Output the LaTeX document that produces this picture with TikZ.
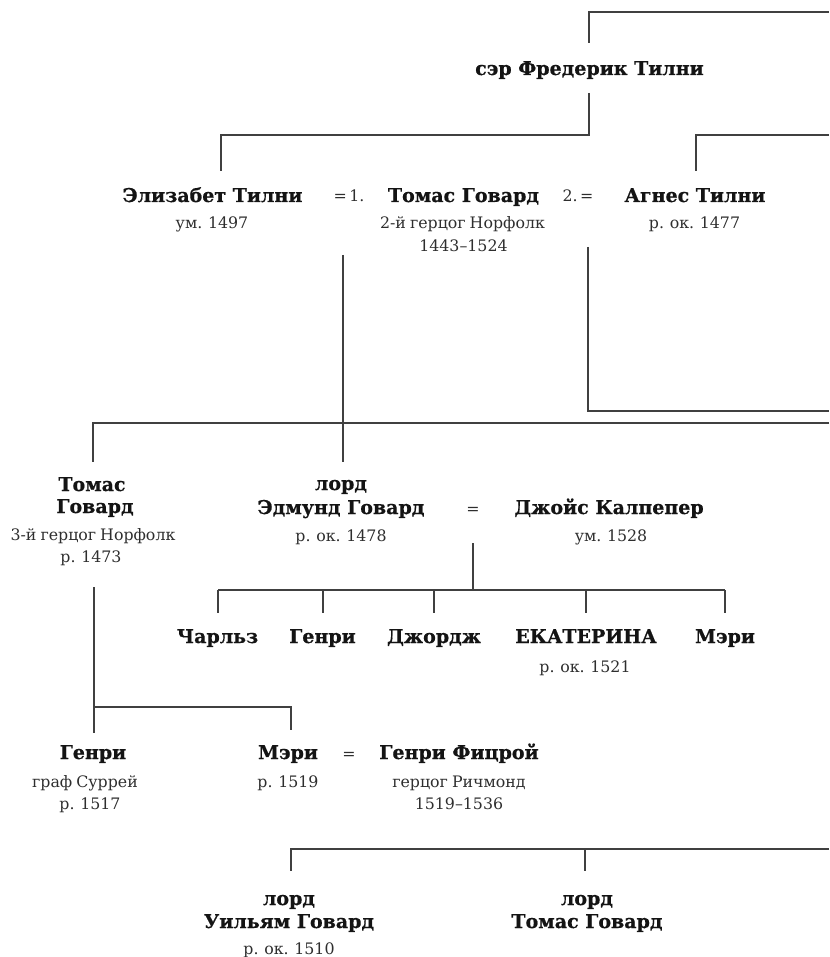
\documentclass[tikz,border=0pt]{standalone}
\usepackage{fontspec}
\newfontfamily\treefont{DejaVu Serif}[BoldFeatures={FakeBold=0.6}]
\newfontfamily\subfont{DejaVu Serif}[WordSpace=0.8]
\begin{document}
\begin{tikzpicture}[x=1pt,y=-1pt,
  nm/.style={font=\treefont\bfseries\fontsize{19}{22}\selectfont, text=black!92, anchor=base, inner sep=0pt},
  sb/.style={font=\subfont\fontsize{15.8}{18}\selectfont, text=black!82, anchor=base, inner sep=0pt},
  ln/.style={line width=1.1pt, draw=black!75}]
\useasboundingbox (0,0) rectangle (829,957);
% ---------- texts ----------
\node[nm] (fred) at (589.5,75) {сэр Фредерик Тилни};
\node[nm] (eliz) at (212.5,202) {Элизабет Тилни};
\node[sb] (elizd) at (212,229) {ум. 1497};
\node[sb] (m1) at (349,202) {=\,1.};
\node[nm] (thB) at (463.5,202) {Томас Говард};
\node[sb] (thBa) at (462.5,229) {2-й герцог Норфолк};
\node[sb] (thBb) at (463.5,252) {1443–1524};
\node[sb] (m2) at (578,202) {2.\,=};
\node[nm] (agn) at (695,202) {Агнес Тилни};
\node[sb] (agnd) at (694.5,229) {р. ок. 1477};
\node[nm] (thCa) at (92,491) {Томас};
\node[nm] (thCb) at (95,513) {Говард};
\node[sb] (thCc) at (93,540) {3-й герцог Норфолк};
\node[sb] (thCd) at (91,562) {р. 1473};
\node[nm] (edma) at (341,490) {лорд};
\node[nm] (edmb) at (341,514) {Эдмунд Говард};
\node[sb] (edmc) at (341,541) {р. ок. 1478};
\node[sb] (m3) at (473,514) {=};
\node[nm] (joy) at (609,514) {Джойс Калпепер};
\node[sb] (joyd) at (611,541) {ум. 1528};
\node[nm] (cha) at (217.5,643) {Чарльз};
\node[nm] (hen) at (322.5,643) {Генри};
\node[nm] (geo) at (434,643) {Джордж};
\node[nm] (kat) at (586,643) {ЕКАТЕРИНА};
\node[sb] (katd) at (585,672) {р. ок. 1521};
\node[nm] (mar) at (725,643) {Мэри};
\node[nm] (henS) at (93,759) {Генри};
\node[sb] (henSa) at (85,787) {граф Суррей};
\node[sb] (henSb) at (90,809) {р. 1517};
\node[nm] (marF) at (288,759) {Мэри};
\node[sb] (marFd) at (288,787) {р. 1519};
\node[sb] (m4) at (349,759) {=};
\node[nm] (fitz) at (459,759) {Генри Фицрой};
\node[sb] (fitza) at (459,787) {герцог Ричмонд};
\node[sb] (fitzb) at (459,809) {1519–1536};
\node[nm] (wila) at (289,905) {лорд};
\node[nm] (wilb) at (289,928) {Уильям Говард};
\node[sb] (wilc) at (289,954) {р. ок. 1510};
\node[nm] (tomla) at (587,905) {лорд};
\node[nm] (tomlb) at (587,928) {Томас Говард};
% ---------- junction points ----------
\coordinate (fTop) at (589,43);
\coordinate (rTop) at (829,12);
\coordinate (fBot) at (589,93);
\coordinate (jF) at (589,135);
\coordinate (eTop) at (221,171);
\coordinate (rA) at (829,135);
\coordinate (aTop) at (696,171);
\coordinate (c1) at (343,255);
\coordinate (c1b) at (343,462);
\coordinate (jL) at (93,423);
\coordinate (rL) at (829,423);
\coordinate (tCTop) at (93,462);
\coordinate (c2) at (588,247);
\coordinate (rM) at (829,411);
\coordinate (c3) at (473,543);
\coordinate (jC) at (473,590);
\coordinate (chL) at (218,590);
\coordinate (chR) at (725,590);
\coordinate (ch1) at (218,613);
\coordinate (ch2) at (323,613);
\coordinate (ch3) at (434,613);
\coordinate (ch4) at (586,613);
\coordinate (ch5) at (725,613);
\coordinate (c4) at (94,587);
\coordinate (hTop) at (94,733);
\coordinate (jS) at (94,707);
\coordinate (mTop) at (291,730);
\coordinate (jB) at (291,849);
\coordinate (rB) at (829,849);
\coordinate (wTop) at (291,871);
\coordinate (tTop) at (585,871);
% ---------- connectors ----------
\draw[ln] (fTop) |- (rTop);
\draw[ln] (fBot) -- (jF) -| (eTop);
\draw[ln] (rA) -| (aTop);
\draw[ln] (c1) -- (c1b);
\draw[ln] (rL) -| (tCTop);
\draw[ln] (c2) |- (rM);
\draw[ln] (c3) -- (jC);
\draw[ln] (chL) -- (chR);
\foreach \c in {ch1,ch2,ch3,ch4,ch5} \draw[ln] (\c |- jC) -- (\c);
\draw[ln] (c4) -- (hTop);
\draw[ln] (jS) -| (mTop);
\draw[ln] (rB) -| (wTop);
\draw[ln] (tTop |- jB) -- (tTop);
\end{tikzpicture}
\end{document}
